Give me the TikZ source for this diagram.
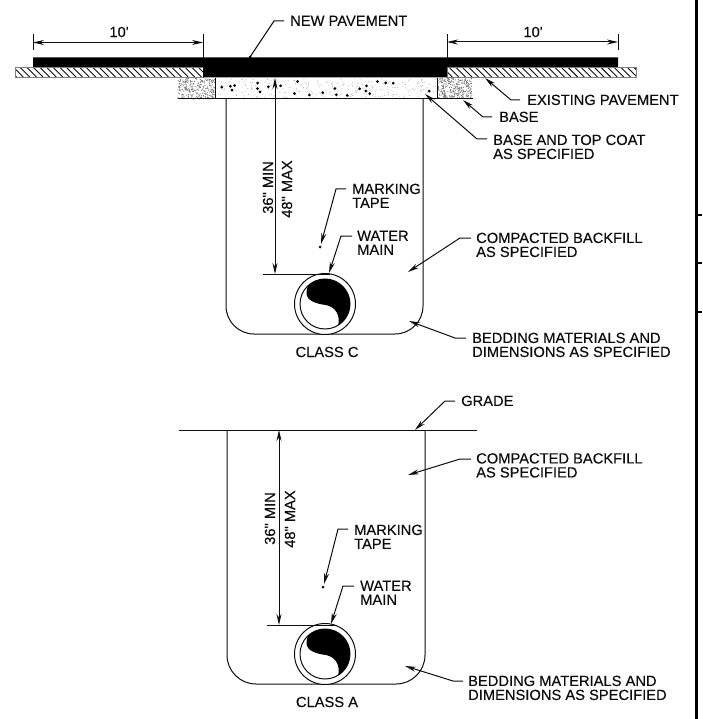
\documentclass[tikz,border=0pt]{standalone}
\usepackage{fontspec}
\newfontfamily\labfont[FakeBold=0.25]{Liberation Sans}
\usetikzlibrary{arrows.meta}
\definecolor{ink}{gray}{0.05}
\tikzset{
  lbl/.style={inner sep=0pt,anchor=north west,align=left,font=\labfont\fontsize{14.7}{14}\selectfont,text=ink},
  ctr/.style={inner sep=0pt,font=\labfont\fontsize{14.7}{14}\selectfont,text=ink},
  vlbl/.style={inner sep=0pt,anchor=west,rotate=90,font=\labfont\fontsize{14.7}{14}\selectfont,text=ink},
  line/.style={draw=ink,line width=1pt},
  leader/.style={line,-{Stealth[length=11pt,width=5pt]}},
  dim/.style={line,{Stealth[length=11pt,width=5pt]}-{Stealth[length=11pt,width=5pt]}},
  hatchbox/.style={draw=gray,line width=0.8pt},
  ring/.style={line,fill=white}
}
\newcommand{\pipeat}[2]{%
  \begin{scope}[shift={(#1,#2)}]
    \draw[ring] (0,0) circle[radius=30.5];
    \draw[ring] (0,0) circle[radius=25];
    \fill[black] (-16.5,-18.8) arc[start angle=-131,end angle=58,radius=25]
      .. controls (15.5,12) and (11,3) .. (1,1)
      .. controls (-8,0) and (-18.5,-3) .. (-18.5,-11)
      .. controls (-18.5,-14) and (-18,-17) .. (-16.5,-18.8) -- cycle;
  \end{scope}}
\begin{document}
\begin{tikzpicture}[x=1pt,y=-1pt]
\useasboundingbox (0,0) rectangle (702,719);
\fill[white] (0,0) rectangle (702,719);
\pgfmathsetseed{4217}
% stipple of the base
\foreach \i in {1,...,520}{
  \pgfmathsetmacro{\px}{rnd<0.5 ? 178+37*rnd : 437+35*rnd}
  \pgfmathsetmacro{\py}{78+21*rnd}
  \fill[gray!90!black] (\px,\py) circle[radius=0.6];
}
% concrete
\foreach \i in {1,...,300}{
  \pgfmathsetmacro{\px}{216+220*rnd}
  \pgfmathsetmacro{\py}{79+19*rnd}
  \fill[gray!70] (\px,\py) circle[radius=0.45];
}
\foreach \i in {1,...,24}{
  \pgfmathsetmacro{\px}{218+216*rnd}
  \pgfmathsetmacro{\py}{80+17*rnd}
  \fill[black] (\px,\py) circle[radius=1.5];
}
% hatching
\begin{scope}
  \clip (15,67) rectangle (203,77) (447,67) rectangle (636,77);
  \foreach \h in {0,6.6,...,640}{
    \draw[ink,line width=0.9pt] (\h,67) -- (\h+10,77);
  }
\end{scope}
\draw[hatchbox] (15,67) rectangle (203,77);
\draw[hatchbox] (447,67) rectangle (636,77);
% new pavement
\fill[black] (33,57.5) -- (618,57.5) -- (618,67) -- (447,67) -- (447,77.5) -- (203,77.5) -- (203,67) -- (33,67) -- cycle;
% base
\draw[line] (178,99) -- (473,99);
\draw[line] (215,78) -- (215,99);
\draw[line] (437,78) -- (437,99);
% trench C
\draw[line,rounded corners=28pt] (226,99) -- (226,334) -- (423,334) -- (423,99);
\pipeat{325}{304}
% trench A
\draw[line] (179,430) -- (477,430);
\draw[line,rounded corners=29pt] (227,430) -- (227,684) -- (425,684) -- (425,430);
\pipeat{325}{654}
% 10' dimensions
\coordinate (d1a) at (33,42.5); \coordinate (d1b) at (203,42.5);
\coordinate (d2a) at (447,42); \coordinate (d2b) at (618,42);
\draw[line] (33,34) -- (33,50);
\draw[line] (203,34) -- (203,58);
\draw[line] (447,34) -- (447,58);
\draw[line] (618,34) -- (618,50);
\draw[dim] (d1a) -- (d1b);
\draw[dim] (d2a) -- (d2b);
\node[ctr] (ten1) at (119,32) {10'};
\node[ctr] (ten2) at (533,32) {10'};
% depth dimensions
\coordinate (c1) at (275,78); \coordinate (c2) at (275,274);
\draw[line] (263,274) -- (330,274);
\draw[dim] (c1) -- (c2);
\node[vlbl] (minc) at (268,214) {36" MIN};
\node[vlbl] (maxc) at (287,218) {48" MAX};
\coordinate (a1) at (279,430); \coordinate (a2) at (279,625);
\draw[line] (267,625) -- (335,625);
\draw[dim] (a1) -- (a2);
\node[vlbl] (mina) at (270,545) {36" MIN};
\node[vlbl] (maxa) at (290,548) {48" MAX};
% tape dots
\coordinate (tapec) at (320,247);
\coordinate (tapea) at (323,587);
\fill[ink] (tapec) circle[radius=1.5];
\fill[ink] (tapea) circle[radius=1.5];
% labels
\node[lbl] (newp) at (290,15.5) {NEW PAVEMENT};
\node[lbl] (exist) at (527,94.5) {EXISTING PAVEMENT};
\node[lbl] (base) at (499,111.5) {BASE};
\node[lbl] (btc) at (493,134.5) {BASE AND TOP COAT\\AS SPECIFIED};
\node[lbl] (mtc) at (352,183.5) {MARKING\\TAPE};
\node[lbl] (wmc) at (357,230.5) {WATER\\MAIN};
\node[lbl] (cbc) at (476,232.5) {COMPACTED BACKFILL\\AS SPECIFIED};
\node[lbl] (bdc) at (472,332.5) {BEDDING MATERIALS AND\\DIMENSIONS AS SPECIFIED};
\node[ctr] (clc) at (327,352) {CLASS C};
\node[lbl] (grade) at (461,395.5) {GRADE};
\node[lbl] (cba) at (476,453) {COMPACTED BACKFILL\\AS SPECIFIED};
\node[lbl] (mta) at (354,524.5) {MARKING\\TAPE};
\node[lbl] (wma) at (360,580.5) {WATER\\MAIN};
\node[lbl] (bda) at (468,675.5) {BEDDING MATERIALS AND\\DIMENSIONS AS SPECIFIED};
\node[ctr] (cla) at (327,702) {CLASS A};
% leaders
\draw[line] (284,21) -- (274,21) -- (250,57);
\fill[black] (250,57) circle[radius=1.5];
\draw[leader] (520,100) -- (511,100) -- (485,78);
\draw[leader] (492,117) -- (483,117) -- (463,100);
\draw[leader] (487,139) -- (477,139) -- (425,94);
\draw[leader] (346,189) -- (336,189) -- (321,244);
\draw[leader] (352,236) -- (341,236) -- (329,273);
\draw[leader] (471,238) -- (460,238) -- (408,272);
\draw[leader] (466,338) -- (455,338) -- (409,321);
\draw[leader] (455,401) -- (445,401) -- (415,430);
\draw[leader] (471,459) -- (460,459) -- (408,475);
\draw[leader] (348,529) -- (338,529) -- (324,584);
\draw[leader] (354,586) -- (343,586) -- (331,624);
\draw[leader] (463,681) -- (453,681) -- (405,666);
% right border
\draw[black,line width=3pt] (696.5,0) -- (696.5,719);
\draw[black,line width=1.4pt] (696.5,215) -- (702,215);
\draw[black,line width=1.4pt] (696.5,263) -- (702,263);
\draw[black,line width=1.4pt] (696.5,312) -- (702,312);
\end{tikzpicture}
\end{document}
